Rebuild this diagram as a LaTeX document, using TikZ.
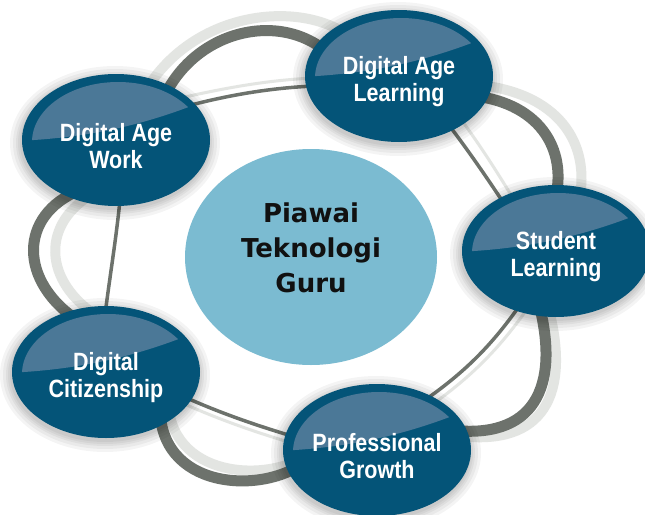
\documentclass[tikz,border=0pt]{standalone}
\usepackage{fontspec}
\newfontfamily\bubfont[FakeStretch=0.86]{Liberation Sans}
\newfontfamily\midfont{DejaVu Sans}
\usetikzlibrary{shapes.geometric,backgrounds,calc}
\pgfdeclarelayer{shadowlayer}
\pgfsetlayers{background,shadowlayer,main}
\definecolor{bubdark}{HTML}{045478}
\definecolor{bubhl}{HTML}{4B7897}
\definecolor{ringdark}{HTML}{6D726C}
\definecolor{ringlight}{HTML}{E3E5E2}
\definecolor{midblue}{HTML}{7BBBD1}
\definecolor{midtextc}{HTML}{111111}
\begin{document}
\begin{tikzpicture}[x=1pt,y=-1pt,
  bubble/.style={ellipse, minimum width=188pt, minimum height=132pt, inner sep=0pt, fill=bubdark,
    path picture={
      \begin{scope}[shift={(path picture bounding box.center)}]
        \clip (2,2) ellipse [x radius=86, y radius=60];
        \fill[bubhl] (-100,1) .. controls (-30,-2) and (30,-14) .. (100,-44) -- (100,-80) -- (-100,-80) -- cycle;
      \end{scope}}},
  bubtext/.style={text=white, font=\bubfont\bfseries\fontsize{25}{27}\selectfont, align=center, inner sep=0pt, yshift=-6pt},
  midtext/.style={text=midtextc, font=\midfont\bfseries\fontsize{26}{35}\selectfont, align=center, inner sep=0pt, yshift=9.5pt},
  ringthick/.style={draw=ringdark, line width=11pt},
  ringthin/.style={draw=ringdark, line width=3.5pt},
  shadethick/.style={draw=ringlight, line width=10pt},
  shadethin/.style={draw=ringlight, line width=3pt},
  halo/.style={fill=black, opacity=0.045}]
\useasboundingbox (0,0) rectangle (645,514);

\node[bubble, label={[bubtext]center:{Digital Age\\Work}}] (daw) at (116,140) {};
\node[bubble, label={[bubtext]center:{Digital Age\\Learning}}] (dal) at (399,76) {};
\node[bubble, label={[bubtext]center:{Student\\Learning}}] (sl) at (556,251) {};
\node[bubble, label={[bubtext]center:{Digital\\Citizenship}}] (dc) at (106,372) {};
\node[bubble, label={[bubtext]center:{Professional\\Growth}}] (pg) at (377,450) {};

\node[ellipse, minimum width=252pt, minimum height=216pt, inner sep=0pt, fill=midblue,
  label={[midtext]center:{Piawai\\Teknologi\\Guru}}] (mid) at (311,257) {};

\begin{pgfonlayer}{shadowlayer}
\foreach \n in {daw,dal,sl,dc,pg}{
  \foreach \r in {11,8,5,3,1}{
    \fill[halo] ([shift={(-1,3)}]\n.center) ellipse [x radius=94+\r, y radius=66+\r];
  }
}
\end{pgfonlayer}

\begin{pgfonlayer}{background}
\fill[white] (0,0) rectangle (645,514);
% light shadow rings
\draw[shadethick] ([shift={(30,-50)}]daw.center) .. controls (195,10) and (300,0) .. ([shift={(-50,-40)}]dal.center);
\draw[shadethick] ([shift={(81,9)}]dal.center) .. controls (565,95) and (592,150) .. ([shift={(22,-46)}]sl.center);
\draw[shadethick] ([shift={(-8,55)}]sl.center) .. controls (572,396) and (542,446) .. ([shift={(83,-14)}]pg.center);
\draw[shadethick] ([shift={(62,26)}]dc.center) .. controls (168,478) and (268,485) .. ([shift={(-64,2)}]pg.center);
\draw[shadethick] ([shift={(-20,52)}]daw.center) .. controls (40,222) and (42,282) .. ([shift={(-6,-54)}]dc.center);
\draw[shadethin] ([shift={(69,-43)}]daw.center) .. controls (230,87) and (270,80) .. ([shift={(-85,2)}]dal.center);
\draw[shadethin] ([shift={(61,42)}]dal.center) .. controls (482,148) and (497,172) .. ([shift={(-40,-48)}]sl.center);
\draw[shadethin] ([shift={(-26,54)}]sl.center) .. controls (500,348) and (473,375) .. ([shift={(56,-46)}]pg.center);
\draw[shadethin] ([shift={(74,30)}]dc.center) .. controls (220,420) and (255,432) .. ([shift={(-82,-6)}]pg.center);
% dark rings
\draw[ringthick] ([shift={(49,-45)}]daw.center) .. controls (200,25) and (290,10) .. ([shift={(-64,-16)}]dal.center);
\draw[ringthick] ([shift={(66,19)}]dal.center) .. controls (540,100) and (568,150) .. ([shift={(-1,-51)}]sl.center);
\draw[ringthick] ([shift={(-18,49)}]sl.center) .. controls (562,390) and (532,440) .. ([shift={(73,-20)}]pg.center);
\draw[ringthick] ([shift={(54,33)}]dc.center) .. controls (158,490) and (262,495) .. ([shift={(-72,12)}]pg.center);
\draw[ringthick] ([shift={(-36,50)}]daw.center) .. controls (18,215) and (18,282) .. ([shift={(-26,-50)}]dc.center);
\draw[ringthin] ([shift={(75,-35)}]daw.center) .. controls (230,95) and (270,88) .. ([shift={(-85,10)}]dal.center);
\draw[ringthin] ([shift={(46,44)}]dal.center) .. controls (468,150) and (485,175) .. ([shift={(-51,-46)}]sl.center);
\draw[ringthin] ([shift={(-36,54)}]sl.center) .. controls (492,345) and (465,372) .. ([shift={(48,-50)}]pg.center);
\draw[ringthin] ([shift={(74,23)}]dc.center) .. controls (220,413) and (255,425) .. ([shift={(-82,-13)}]pg.center);
\draw[ringthin] ([shift={(4,60)}]daw.center) .. controls (116,240) and (110,275) .. ([shift={(-1,-57)}]dc.center);
\end{pgfonlayer}
\end{tikzpicture}
\end{document}
